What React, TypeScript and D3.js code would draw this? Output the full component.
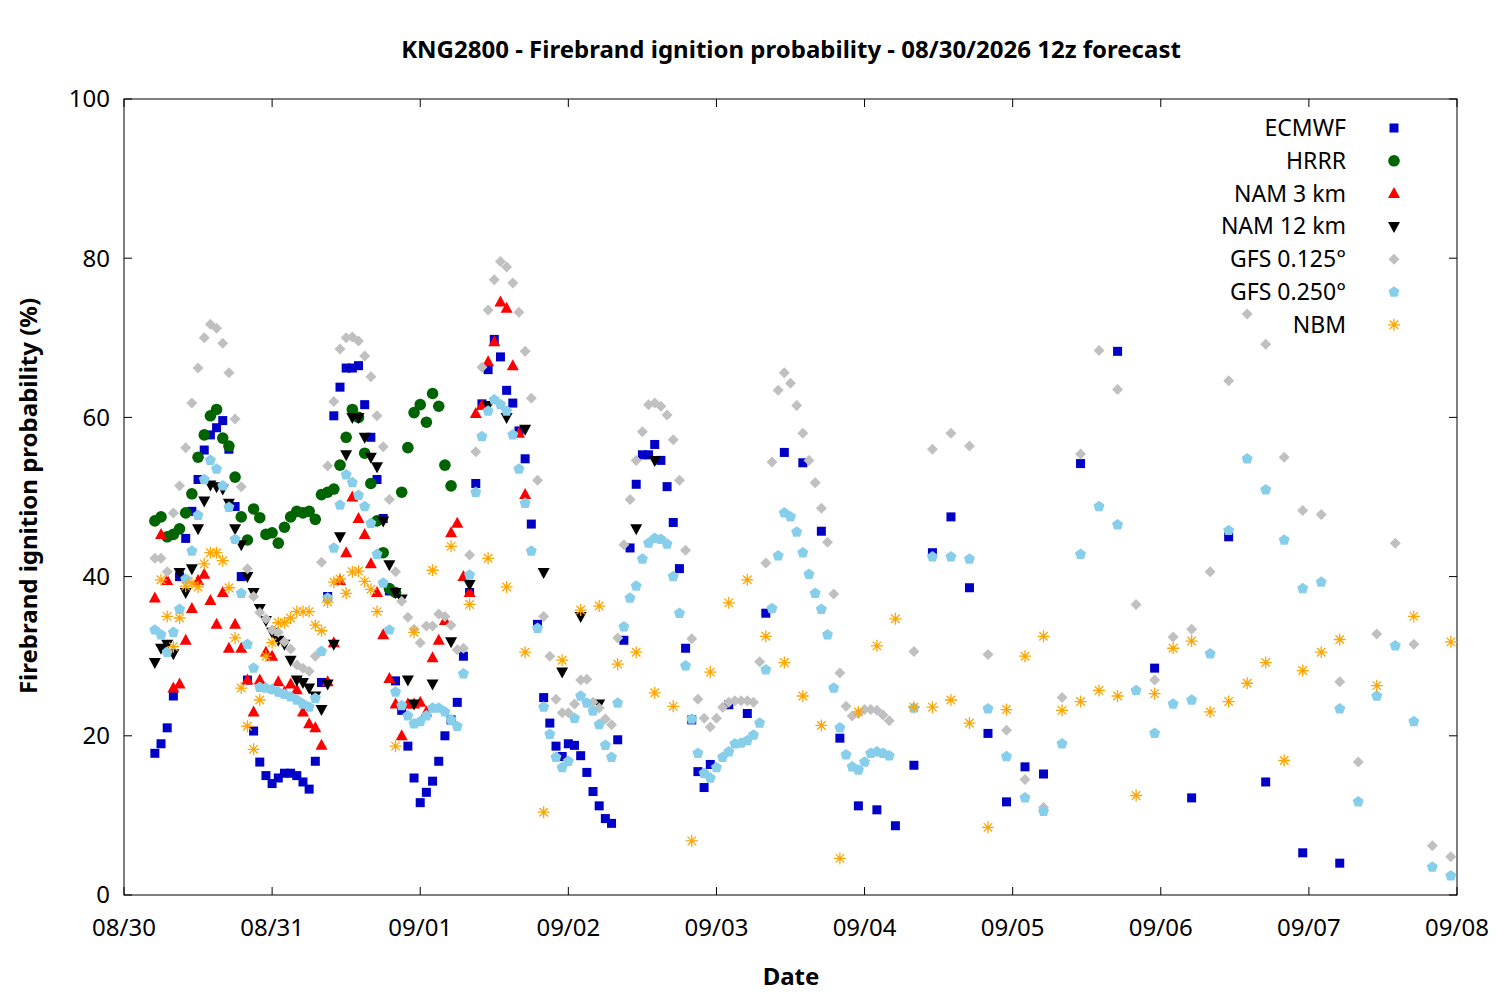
import { useRef, useEffect } from "react";
import * as d3 from "d3";

// hours counted from 08/30 00z
const dayLabels = ["08/30", "08/31", "09/01", "09/02", "09/03", "09/04", "09/05", "09/06", "09/07", "09/08"];
const yTicks = [0, 20, 40, 60, 80, 100];

const ecmwfHourly = [
  17.8, 19, 21, 25, 40, 44.8, 48.2, 52.2, 55.9, 57.8, 58.7, 59.6, 56, 48.8, 40, 27, 20.6, 16.7, 15, 14,
  14.7, 15.3, 15.3, 15, 14.2, 13.3, 16.8, 26.7, 37.5, 60.2, 63.8, 66.2, 66.2, 66.5, 61.6, 57.5, 52.2, 47.3, 38.2, 26.9,
  23.2, 18.7, 14.7, 11.6, 12.9, 14.3, 16.8, 20, 22, 24.2, 30, 38, 51.7, 61.7, 66, 69.8, 67.6, 63.4, 61.8, 58.3,
  54.8, 46.6, 34, 24.8, 21.6, 18.7, 17.4, 19, 18.8, 17.5, 15.4, 13, 11.2, 9.6, 9, 19.5, 32, 43.6, 51.6, 55.3,
  55.3, 56.6, 54.6, 51.3, 46.8, 41, 31, 22, 15.5, 13.5, 16.4,
];
const ecmwf3h = [23.9, 22.8, 35.4, 55.6, 54.3, 45.7, 19.7, 11.2, 10.7, 8.7, 16.3, 43, 47.5, 38.6, 20.3, 11.7, 16.1, 15.2];
const ecmwf6h = [54.2, 68.3, 28.5, 12.2, 45, 14.2, 5.3, 4];

const hrrrHourly = [
  47, 47.5, 45, 45.3, 46, 48, 50.4, 55, 57.8, 60.2, 61, 57.4, 56.4, 52.5, 47.5, 44.6, 48.5, 47.4, 45.3, 45.5,
  44.2, 46.2, 47.5, 48.2, 48, 48.2, 47.2, 50.3, 50.6, 51, 54, 57.5, 61, 60, 55.5, 51.7, 47, 43, 38.5, 38,
  50.6, 56.2, 60.6, 61.6, 59.4, 63, 61.4, 54, 51.4,
];

const nam3Hourly = [
  37.3, 45.3, 39.5, 26, 26.5, 32, 36, 39.5, 40.3, 37, 34, 38, 31, 34, 31, 27, 23, 27, 30.5, 30,
  26.8, 25.5, 26.5, 25.8, 23, 21.5, 21, 18.8, 26.8, 31.7, 39.5, 43, 50, 47.3, 45.3, 41.6, 38, 32.7, 27.2, 24,
  20, 24, 24, 24.2, 23, 29.8, 32, 34.5, 45.5, 46.7, 40, 38, 60.5, 61.5, 67, 69.5, 74.5, 73.7, 66.5, 58,
  50.3,
];

const nam12Hourly = [
  29.2, 31, 31.5, 30.3, 40.5, 38, 41, 46, 49.5, 51.5, 51.3, 51, 49.2, 46, 44, 40, 38, 36, 34.5, 33,
  32, 31.5, 29.5, 27, 26.7, 26, 25, 23.3, 26.5, 31.5, 45, 55.3, 60, 60, 57.5, 55, 53.8, 47, 41.5, 38,
  37.2, 27,
];
const nam12_3h = [24, 26.5, 31.8, 39, 61.5, 60, 58.5, 40.5, 28, 35, 24, null, 46, 54.6];

const gfs125Hourly = [
  42.3, 42.3, 40.6, 48, 51.4, 56.2, 61.8, 66.2, 70, 71.7, 71.2, 69.3, 65.6, 59.8, 51.3, 41, 37.5, 35.5, 34.7, 33.3,
  33, 31.8, 30.9, 28.9, 28.5, 28.1, 30, 41.8, 53.9, 62, 68.6, 70, 70.1, 69.6, 67.7, 65.1, 60.2, 56.3, 49.7, 40.6,
  36.9, 34.9, 33.4, 31.7, 33.8, 33.8, 35.3, 35, 33.9, 30.8, 31, 42.7, 55.7, 66.3, 73.5, 77.3, 79.6, 78.9, 76.9, 73.2,
  68.3, 62.4, 52.1, 35, 30, 24.6, 22.9, 22.9, 24, 27, 27.1, 24.2, 23.5, 22.1, 21.4, 32.3, 44, 49.7, 54.6, 58.2,
  61.6, 61.8, 61.4, 60.3, 57.2, 52.1, 43.3, 32.2, 24.6, 22.2, 21.1, 22.2, 23.6, 24.2, 24.4, 24.4, 24.4, 24.2, 29.3, 41.7,
  54.4, 63.4, 65.6, 64.3, 61.5, 58, 54.6, 51.8, 48.6, 44.3, 37.8, 27.9, 23.7, 22.5, 22.8, 23.3, 23.3, 23.2, 22.6, 21.9,
];
const gfs125_3h = [
  30.6, 56, 58, 56.4, 30.2, 20.7, 14.5, 11, 24.8, 55.4, 68.4, 63.5, 36.5, 27, 32.4, 33.4, 40.6, 64.6, 73, 69.2,
  55, 48.3, 47.8, 26.8, 16.7, 32.8, 44.2, 31.5, 6.2, 4.8,
];

const gfs250Hourly = [
  33.3, 32.7, 30.5, 33, 35.9, 39.7, 43.2, 47.7, 52.2, 54.6, 53.5, 51.4, 48.7, 44.7, 37.9, 31.5, 28.5, 26.1, 26, 25.8,
  25.5, 25.2, 24.9, 24.5, 24, 23.6, 24.7, 30.6, 37.3, 43.6, 49, 52.8, 51.8, 50.2, 48.8, 46.7, 42.8, 39.2, 33.3, 25.5,
  23.8, 22.5, 21.5, 21.8, 22.5, 23.5, 23.5, 23, 22, 21.2, 27.8, 40.2, 50.6, 57.6, 60.8, 62.2, 61.6, 60.8, 57.8, 53.5,
  49.2, 43.2, 33.5, 23.6, 20.2, 17.3, 16, 16.8, 22.2, 25, 24.1, 23.1, 21.4, 18.8, 17.3, 24.1, 33.7, 37.3, 38.8, 42.2,
  44.2, 44.8, 44.7, 44.1, 40, 35.4, 28.8, 22.1, 17.8, 15.3, 14.7, 16, 17.3, 18, 19, 19.1, 19.4, 20.1, 21.6, 28.3,
  36, 42.6, 48, 47.5, 45.6, 43, 40.3, 37.9, 35.9, 32.7, 26, 21, 17.6, 16.1, 15.7, 16.7, 17.8, 18, 17.8, 17.5,
];
const gfs250_3h = [
  23.5, 42.5, 42.5, 42.2, 23.4, 17.4, 12.2, 10.5, 19, 42.8, 48.8, 46.5, 25.7, 20.3, 24, 24.5, 30.3, 45.8, 54.8, 50.9,
  44.6, 38.5, 39.3, 23.4, 11.7, 25, 31.3, 21.8, 3.5, 2.4,
];

const nbmHourly = [
  39.6, 35, 31.2, 34.8, 38.8, 39.2, 38.7, 41.6, 43, 43, 42, 38.6, 32.3, 26, 21.2, 18.3, 24.5, 30, 31.7, 34.2,
  34.2, 34.8, 35.6, 35.6, 35.6, 33.9, 33.2, 36.8, 39.3, 39.7, 37.9, 40.6, 40.7, 39.4, 38.4, 35.6,
];
const nbm3h = [
  18.7, 33, 40.8, 43.8, 36.5, 42.3, 38.7, 30.5, 10.4, 29.5, 35.8, 36.3, 29, 30.5, 25.4, 23.7, 6.8, 28, 36.7, 39.6,
  32.5, 29.2, 25, 21.3, 4.6, 23, 31.3, 34.7, 23.6, 23.6, 24.5, 21.6, 8.5, 23.3, 30, 32.5, 23.2, 24.3, 25.7, 25,
  12.5, 25.3, 31, 31.9, 23, 24.3, 26.6, 29.2, 16.9, 28.2, 30.5, 32.1, null, 26.3, null, 35, null, 31.8,
];

type Pt = [number, number];
const seg = (start: number, step: number, vals: (number | null)[]): Pt[] =>
  vals.flatMap((v, i) => (v == null ? [] : [[start + i * step, v] as Pt]));

const pentagon = (r: number) =>
  d3.range(5).map((i) => {
    const a = -Math.PI / 2 + (i * 2 * Math.PI) / 5;
    return [r * Math.cos(a), r * Math.sin(a)];
  });

export default function App() {
  const svgRef = useRef<SVGSVGElement>(null);

  useEffect(() => {
    if (!svgRef.current) return;
    const width = 1500;
    const height = 1000;
    const margin = { top: 99, right: 43, bottom: 105, left: 124 };
    const innerW = width - margin.left - margin.right;
    const innerH = height - margin.top - margin.bottom;
    const font = "'Noto Sans', 'Open Sans', sans-serif";

    const series = [
      { name: "ECMWF", color: "#0000c8", shape: "square",
        data: [...seg(5, 1, ecmwfHourly), ...seg(98, 3, ecmwf3h), ...seg(155, 6, ecmwf6h)] },
      { name: "HRRR", color: "#006400", shape: "circle", data: seg(5, 1, hrrrHourly) },
      { name: "NAM 3 km", color: "#ff0000", shape: "triUp", data: seg(5, 1, nam3Hourly) },
      { name: "NAM 12 km", color: "#000000", shape: "triDown",
        data: [...seg(5, 1, nam12Hourly), ...seg(47, 3, nam12_3h)] },
      { name: "GFS 0.125°", color: "#c0c0c0", shape: "diamond",
        data: [...seg(5, 1, gfs125Hourly), ...seg(128, 3, gfs125_3h)] },
      { name: "GFS 0.250°", color: "#87ceeb", shape: "pentagon",
        data: [...seg(5, 1, gfs250Hourly), ...seg(128, 3, gfs250_3h)] },
      { name: "NBM", color: "#ffa500", shape: "star",
        data: [...seg(6, 1, nbmHourly), ...seg(44, 3, nbm3h)] },
    ];

    const svg = d3.select(svgRef.current);
    svg.selectAll("*").remove();
    svg.attr("width", width).attr("height", height).attr("viewBox", `0 0 ${width} ${height}`);
    svg.append("rect").attr("width", width).attr("height", height).attr("fill", "#fff");

    const x = d3.scaleLinear().domain([0, 216]).range([0, innerW]);
    const y = d3.scaleLinear().domain([0, 100]).range([innerH, 0]);
    const g = svg.append("g").attr("transform", `translate(${margin.left},${margin.top})`);

    const dayTicks = dayLabels.map((_, i) => i * 24);
    const tk = 8;
    // ticks (inward, mirrored)
    dayTicks.forEach((t) => {
      g.append("line").attr("x1", x(t)).attr("x2", x(t)).attr("y1", innerH).attr("y2", innerH - tk).attr("stroke", "#000");
      g.append("line").attr("x1", x(t)).attr("x2", x(t)).attr("y1", 0).attr("y2", tk).attr("stroke", "#000");
    });
    yTicks.forEach((t) => {
      g.append("line").attr("x1", 0).attr("x2", tk).attr("y1", y(t)).attr("y2", y(t)).attr("stroke", "#000");
      g.append("line").attr("x1", innerW).attr("x2", innerW - tk).attr("y1", y(t)).attr("y2", y(t)).attr("stroke", "#000");
    });
    g.append("rect").attr("width", innerW).attr("height", innerH).attr("fill", "none").attr("stroke", "#000");

    g.selectAll(".xl").data(dayTicks).join("text")
      .attr("x", (d) => x(d)).attr("y", innerH + 41).attr("text-anchor", "middle")
      .style("font-family", font).style("font-size", "24px").text((_, i) => dayLabels[i]);
    g.selectAll(".yl").data(yTicks).join("text")
      .attr("x", -14).attr("y", (d) => y(d)).attr("dy", "0.35em").attr("text-anchor", "end")
      .style("font-family", font).style("font-size", "24px").text((d) => d);

    svg.append("text").attr("x", 791).attr("y", 58).attr("text-anchor", "middle")
      .style("font-family", font).style("font-size", "24px").style("font-weight", "bold")
      .text("KNG2800 - Firebrand ignition probability - 08/30/2026 12z forecast");
    svg.append("text").attr("x", 791).attr("y", 985).attr("text-anchor", "middle")
      .style("font-family", font).style("font-size", "24px").style("font-weight", "bold").text("Date");
    svg.append("text").attr("transform", `translate(37,${margin.top + innerH / 2 - 1}) rotate(-90)`)
      .attr("text-anchor", "middle")
      .style("font-family", font).style("font-size", "24px").style("font-weight", "bold")
      .text("Firebrand ignition probability (%)");

    const drawMark = (sel: any, shape: string, color: string) => {
      if (shape === "square") sel.append("rect").attr("x", -4.5).attr("y", -4.5).attr("width", 9).attr("height", 9).attr("fill", color);
      else if (shape === "circle") sel.append("circle").attr("r", 5.8).attr("fill", color);
      else if (shape === "triUp") sel.append("path").attr("d", "M0,-6.5L6,4.5L-6,4.5Z").attr("fill", color);
      else if (shape === "triDown") sel.append("path").attr("d", "M0,6.5L6,-4.5L-6,-4.5Z").attr("fill", color);
      else if (shape === "diamond") sel.append("path").attr("d", "M0,-5.5L5.5,0L0,5.5L-5.5,0Z").attr("fill", color);
      else if (shape === "pentagon") sel.append("polygon").attr("points", pentagon(5.8).map((p) => p.join(",")).join(" ")).attr("fill", color);
      else if (shape === "star") {
        const r = 6;
        const d = d3.range(4).map((i) => {
          const a = (i * Math.PI) / 4;
          return `M${-r * Math.cos(a)},${-r * Math.sin(a)}L${r * Math.cos(a)},${r * Math.sin(a)}`;
        }).join("");
        sel.append("path").attr("d", d).attr("stroke", color).attr("stroke-width", 1.3).attr("fill", "none");
      }
    };

    const plot = g.append("g");
    series.forEach((s) => {
      s.data.forEach(([h, v]) => {
        const m = plot.append("g").attr("transform", `translate(${x(h)},${y(v)})`);
        drawMark(m, s.shape, s.color);
      });
    });

    // legend
    series.forEach((s, i) => {
      const ly = 128 + i * 32.8;
      svg.append("text").attr("x", 1346).attr("y", ly).attr("dy", "0.35em").attr("text-anchor", "end")
        .style("font-family", font).style("font-size", "23px").text(s.name);
      const m = svg.append("g").attr("transform", `translate(1394,${ly})`);
      drawMark(m, s.shape, s.color);
    });
  }, []);

  return <svg ref={svgRef} style={{ display: "block", position: "absolute", left: 0, top: 0 }} />;
}
